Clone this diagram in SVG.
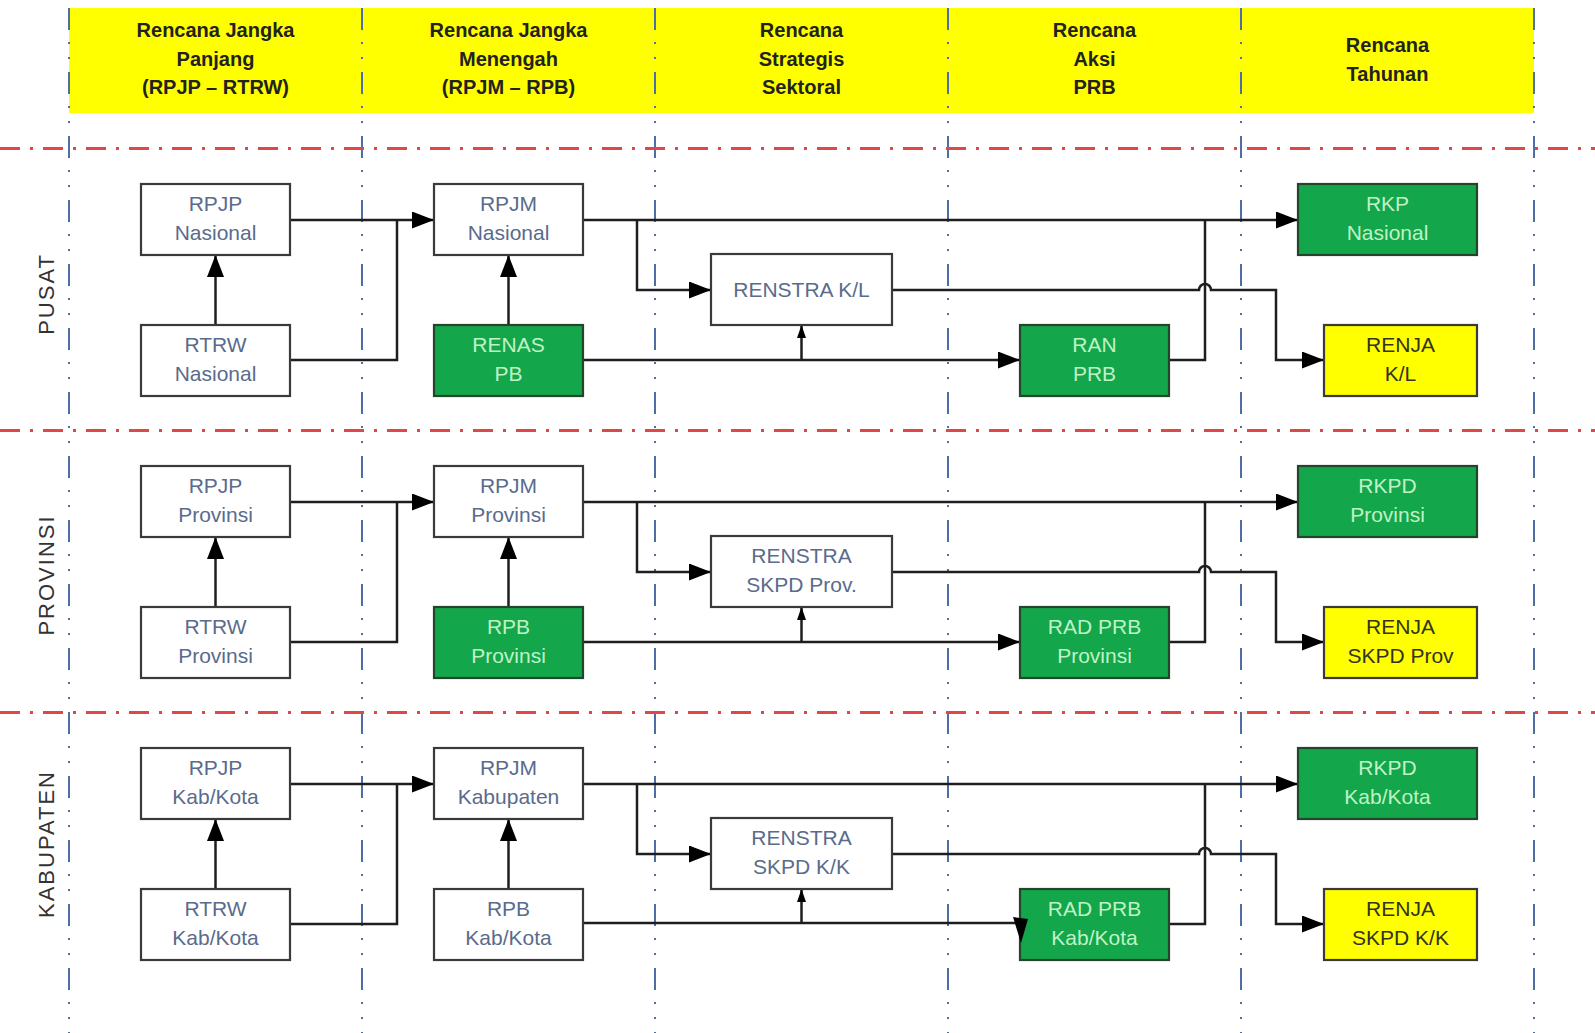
<svg xmlns="http://www.w3.org/2000/svg" width="1595" height="1033" viewBox="0 0 1595 1033">
<style>
.hdr{font-family:"Liberation Sans",Arial,sans-serif;font-size:20px;font-weight:bold;fill:#222;text-anchor:middle}
.lbl{font-family:"Liberation Sans",Arial,sans-serif;font-size:22px;fill:#333;text-anchor:middle;letter-spacing:2px}
.bx{stroke:#3a3a3a;stroke-width:2.2}
.w{fill:#ffffff}
.g{fill:#13a64a;stroke:#24452c}
.y{fill:#ffff00}
.t{font-family:"Liberation Sans",Arial,sans-serif;font-size:21px;text-anchor:middle}
.tw{fill:#5a6b8c}
.tg{fill:#bff3c6}
.ty{fill:#333320}
.vdiv{stroke:#4d6fa6;stroke-width:2;stroke-dasharray:22 12 2 13 2 13;fill:none}
.hdiv{stroke:#e04848;stroke-width:3;stroke-dasharray:20 10 3 10;fill:none}
.c{stroke:#1e1e1e;stroke-width:2.5;fill:none}
.ca{marker-end:url(#ah)}
.cs{marker-end:url(#as)}
</style>
<defs>
<marker id="ah" markerUnits="userSpaceOnUse" markerWidth="24" markerHeight="18" refX="22" refY="8.5" orient="auto"><path d="M0,0 L22,8.5 L0,17 z" fill="#000"/></marker>
<marker id="as" markerUnits="userSpaceOnUse" markerWidth="14" markerHeight="10" refX="13" refY="4.5" orient="auto"><path d="M0,0 L13,4.5 L0,9 z" fill="#000"/></marker>
</defs>
<rect width="1595" height="1033" fill="#ffffff"/>
<g id="header">
<rect x="69" y="8" width="1465" height="105" fill="#ffff00"/>
<text class="hdr" x="215.5" y="37">Rencana Jangka</text>
<text class="hdr" x="215.5" y="65.5">Panjang</text>
<text class="hdr" x="215.5" y="94">(RPJP – RTRW)</text>
<text class="hdr" x="508.5" y="37">Rencana Jangka</text>
<text class="hdr" x="508.5" y="65.5">Menengah</text>
<text class="hdr" x="508.5" y="94">(RPJM – RPB)</text>
<text class="hdr" x="801.5" y="37">Rencana</text>
<text class="hdr" x="801.5" y="65.5">Strategis</text>
<text class="hdr" x="801.5" y="94">Sektoral</text>
<text class="hdr" x="1094.5" y="37">Rencana</text>
<text class="hdr" x="1094.5" y="65.5">Aksi</text>
<text class="hdr" x="1094.5" y="94">PRB</text>
<text class="hdr" x="1387.5" y="51.5">Rencana</text>
<text class="hdr" x="1387.5" y="80.5">Tahunan</text>
</g>
<g id="gridlines">
<line class="vdiv" x1="69" y1="8" x2="69" y2="1033"/>
<line class="vdiv" x1="362" y1="8" x2="362" y2="1033"/>
<line class="vdiv" x1="655" y1="8" x2="655" y2="1033"/>
<line class="vdiv" x1="948" y1="8" x2="948" y2="1033"/>
<line class="vdiv" x1="1241" y1="8" x2="1241" y2="1033"/>
<line class="vdiv" x1="1534" y1="8" x2="1534" y2="1033"/>
<line class="hdiv" x1="0" y1="148.5" x2="1595" y2="148.5"/>
<line class="hdiv" x1="0" y1="430.5" x2="1595" y2="430.5"/>
<line class="hdiv" x1="0" y1="712.5" x2="1595" y2="712.5"/>
</g>
<g id="row-labels">
<text class="lbl" transform="translate(53.5,294) rotate(-90)">PUSAT</text>
<text class="lbl" transform="translate(53.5,575) rotate(-90)">PROVINSI</text>
<text class="lbl" transform="translate(53.5,844) rotate(-90)">KABUPATEN</text>
</g>
<g id="connectors">
<!-- row 1 -->
<path class="c ca" d="M290,220 H434"/>
<path class="c" d="M290,360 H397 V220"/>
<path class="c ca" d="M215.5,325 V255"/>
<path class="c ca" d="M508.5,325 V255"/>
<path class="c ca" d="M583,220 H1298"/>
<path class="c ca" d="M637,220 V290 H711"/>
<path class="c ca" d="M892,290 H1199 A6,6 0 0 1 1211,290 H1276 V360 H1324"/>
<path class="c ca" d="M583,360 H1020"/>
<path class="c cs" d="M801.5,360 V325"/>
<path class="c" d="M1169,360 H1205 V220"/>
<!-- row 2 -->
<path class="c ca" d="M290,502 H434"/>
<path class="c" d="M290,642 H397 V502"/>
<path class="c ca" d="M215.5,607 V537"/>
<path class="c ca" d="M508.5,607 V537"/>
<path class="c ca" d="M583,502 H1298"/>
<path class="c ca" d="M637,502 V572 H711"/>
<path class="c ca" d="M892,572 H1199 A6,6 0 0 1 1211,572 H1276 V642 H1324"/>
<path class="c ca" d="M583,642 H1020"/>
<path class="c cs" d="M801.5,642 V607"/>
<path class="c" d="M1169,642 H1205 V502"/>
<!-- row 3 -->
<path class="c ca" d="M290,784 H434"/>
<path class="c" d="M290,924 H397 V784"/>
<path class="c ca" d="M215.5,889 V819"/>
<path class="c ca" d="M508.5,889 V819"/>
<path class="c ca" d="M583,784 H1298"/>
<path class="c ca" d="M637,784 V854 H711"/>
<path class="c ca" d="M892,854 H1199 A6,6 0 0 1 1211,854 H1276 V924 H1324"/>
<path class="c" d="M583,923 H1016"/>
<path class="c cs" d="M801.5,924 V889"/>
<path class="c" d="M1169,924 H1205 V784"/>
</g>
<!-- Row 1 nodes -->
<g id="rpjp-nasional"><rect class="bx w" x="141" y="184" width="149" height="71"/><text class="t tw" x="215.5" y="211">RPJP</text><text class="t tw" x="215.5" y="240">Nasional</text></g>
<g id="rtrw-nasional"><rect class="bx w" x="141" y="325" width="149" height="71"/><text class="t tw" x="215.5" y="352">RTRW</text><text class="t tw" x="215.5" y="381">Nasional</text></g>
<g id="rpjm-nasional"><rect class="bx w" x="434" y="184" width="149" height="71"/><text class="t tw" x="508.5" y="211">RPJM</text><text class="t tw" x="508.5" y="240">Nasional</text></g>
<g id="renas-pb"><rect class="bx g" x="434" y="325" width="149" height="71"/><text class="t tg" x="508.5" y="352">RENAS</text><text class="t tg" x="508.5" y="381">PB</text></g>
<g id="renstra-kl"><rect class="bx w" x="711" y="254" width="181" height="71"/><text class="t tw" x="801.5" y="297">RENSTRA K/L</text></g>
<g id="ran-prb"><rect class="bx g" x="1020" y="325" width="149" height="71"/><text class="t tg" x="1094.5" y="352">RAN</text><text class="t tg" x="1094.5" y="381">PRB</text></g>
<g id="rkp-nasional"><rect class="bx g" x="1298" y="184" width="179" height="71"/><text class="t tg" x="1387.5" y="211">RKP</text><text class="t tg" x="1387.5" y="240">Nasional</text></g>
<g id="renja-kl"><rect class="bx y" x="1324" y="325" width="153" height="71"/><text class="t ty" x="1400.5" y="352">RENJA</text><text class="t ty" x="1400.5" y="381">K/L</text></g>
<!-- Row 2 nodes -->
<g id="rpjp-provinsi"><rect class="bx w" x="141" y="466" width="149" height="71"/><text class="t tw" x="215.5" y="493">RPJP</text><text class="t tw" x="215.5" y="522">Provinsi</text></g>
<g id="rtrw-provinsi"><rect class="bx w" x="141" y="607" width="149" height="71"/><text class="t tw" x="215.5" y="634">RTRW</text><text class="t tw" x="215.5" y="663">Provinsi</text></g>
<g id="rpjm-provinsi"><rect class="bx w" x="434" y="466" width="149" height="71"/><text class="t tw" x="508.5" y="493">RPJM</text><text class="t tw" x="508.5" y="522">Provinsi</text></g>
<g id="rpb-provinsi"><rect class="bx g" x="434" y="607" width="149" height="71"/><text class="t tg" x="508.5" y="634">RPB</text><text class="t tg" x="508.5" y="663">Provinsi</text></g>
<g id="renstra-skpd-prov"><rect class="bx w" x="711" y="536" width="181" height="71"/><text class="t tw" x="801.5" y="563">RENSTRA</text><text class="t tw" x="801.5" y="592">SKPD Prov.</text></g>
<g id="rad-prb-provinsi"><rect class="bx g" x="1020" y="607" width="149" height="71"/><text class="t tg" x="1094.5" y="634">RAD PRB</text><text class="t tg" x="1094.5" y="663">Provinsi</text></g>
<g id="rkpd-provinsi"><rect class="bx g" x="1298" y="466" width="179" height="71"/><text class="t tg" x="1387.5" y="493">RKPD</text><text class="t tg" x="1387.5" y="522">Provinsi</text></g>
<g id="renja-skpd-prov"><rect class="bx y" x="1324" y="607" width="153" height="71"/><text class="t ty" x="1400.5" y="634">RENJA</text><text class="t ty" x="1400.5" y="663">SKPD Prov</text></g>
<!-- Row 3 nodes -->
<g id="rpjp-kabkota"><rect class="bx w" x="141" y="748" width="149" height="71"/><text class="t tw" x="215.5" y="775">RPJP</text><text class="t tw" x="215.5" y="804">Kab/Kota</text></g>
<g id="rtrw-kabkota"><rect class="bx w" x="141" y="889" width="149" height="71"/><text class="t tw" x="215.5" y="916">RTRW</text><text class="t tw" x="215.5" y="945">Kab/Kota</text></g>
<g id="rpjm-kabupaten"><rect class="bx w" x="434" y="748" width="149" height="71"/><text class="t tw" x="508.5" y="775">RPJM</text><text class="t tw" x="508.5" y="804">Kabupaten</text></g>
<g id="rpb-kabkota"><rect class="bx w" x="434" y="889" width="149" height="71"/><text class="t tw" x="508.5" y="916">RPB</text><text class="t tw" x="508.5" y="945">Kab/Kota</text></g>
<g id="renstra-skpd-kk"><rect class="bx w" x="711" y="818" width="181" height="71"/><text class="t tw" x="801.5" y="845">RENSTRA</text><text class="t tw" x="801.5" y="874">SKPD K/K</text></g>
<g id="rad-prb-kabkota"><rect class="bx g" x="1020" y="889" width="149" height="71"/><text class="t tg" x="1094.5" y="916">RAD PRB</text><text class="t tg" x="1094.5" y="945">Kab/Kota</text><polygon points="1013,917 1028,919 1021,943" fill="#000"/></g>
<g id="rkpd-kabkota"><rect class="bx g" x="1298" y="748" width="179" height="71"/><text class="t tg" x="1387.5" y="775">RKPD</text><text class="t tg" x="1387.5" y="804">Kab/Kota</text></g>
<g id="renja-skpd-kk"><rect class="bx y" x="1324" y="889" width="153" height="71"/><text class="t ty" x="1400.5" y="916">RENJA</text><text class="t ty" x="1400.5" y="945">SKPD K/K</text></g>
</svg>
